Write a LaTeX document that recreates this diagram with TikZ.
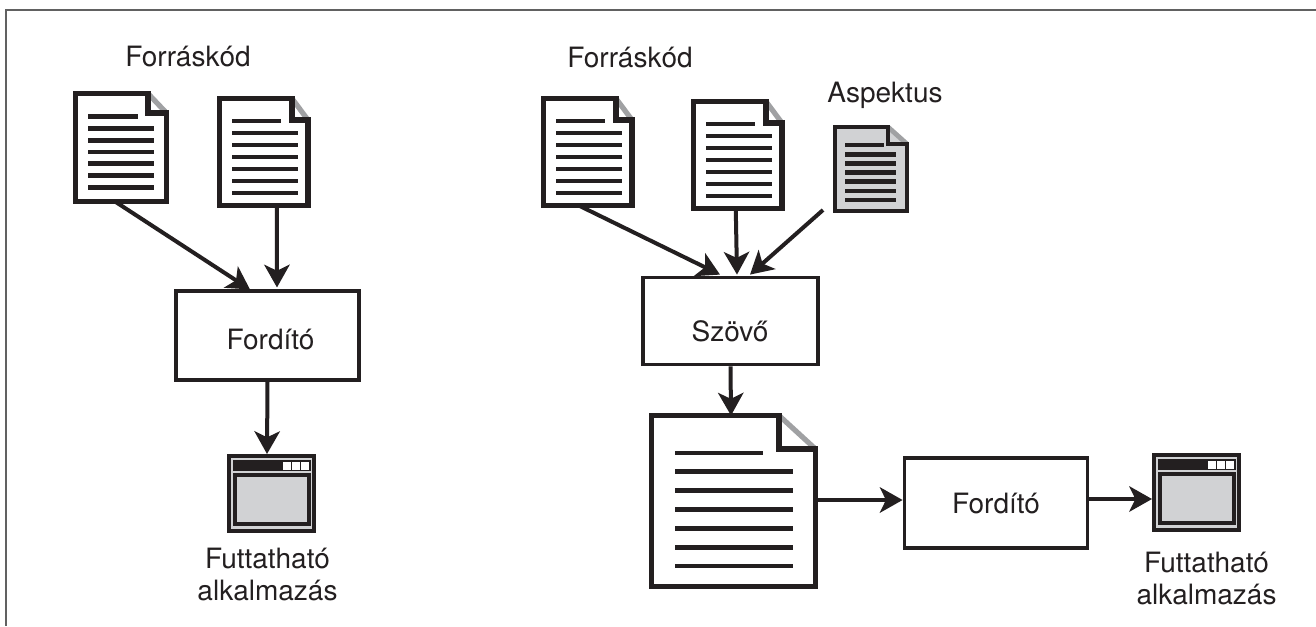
\documentclass[tikz,border=0pt]{standalone}
\usepackage{fontspec}
\setmainfont{TeX Gyre Heros}
\usetikzlibrary{arrows.meta,calc}
\definecolor{ink}{HTML}{231F20}
\definecolor{foldgrey}{HTML}{A0A1A3}
\definecolor{panel}{HTML}{D1D2D4}
\tikzset{
  x=0.75pt,y=-0.75pt,
  flow/.style={draw=ink,line width=3pt,-{Stealth[length=17pt,width=19pt,inset=4.5pt]}},
  procbox/.style={draw=ink,fill=white,line width=2.6pt,inner sep=0pt},
  label/.style={text=ink,font=\fontsize{21pt}{24pt}\selectfont,align=center,inner sep=0pt},
}
% name, left, top, right, bottom, fold x, fold y, first line y, last line y
\newcommand{\docicon}[9]{%
  \node[inner sep=0pt,outer sep=0pt,minimum width={(#4-#2)*0.75pt},minimum height={(#5-#3)*0.75pt}] (#1) at ({(#2+#4)/2},{(#3+#5)/2}) {};
  \fill[\docfill] (#2,#3) -- (#6,#3) -- (#4,#7) -- (#4,#5) -- (#2,#5) -- cycle;
  \draw[foldgrey,line width=\docw] (#6,#3) -- (#4,#7);
  \draw[ink,line width=\docw,miter limit=10]
    (#6,#7) -- (#4,#7) -- (#4,#5) -- (#2,#5) -- (#2,#3) -- (#6,#3) -- cycle;
  \foreach \k in {0,...,6}{
    \pgfmathsetmacro{\ly}{#8+\k*(#9-#8)/6}
    \ifnum\k=0
      \draw[ink,line width=\docl] (\docxa,\ly) -- (\docxc,\ly);
    \else
      \draw[ink,line width=\docl] (\docxa,\ly) -- (\docxb,\ly);
    \fi
  }%
}
\newcommand{\winicon}[3]{% name, left, top
  \begin{scope}[shift={(#2,#3)}]
    \node[inner sep=0pt,outer sep=0pt,minimum width=66.75pt,minimum height=59.25pt,anchor=north west] (#1) at (0,0) {};
    \draw[ink,line width=3pt,fill=panel] (2,2) rectangle (87,77);
    \fill[ink] (6,6) rectangle (84,17);
    \fill[white] (56,8) rectangle (63.5,15.5);
    \fill[white] (65,8) rectangle (72.5,15.5);
    \fill[white] (74,8) rectangle (81.5,15.5);
    \draw[ink,line width=2.8pt,fill=panel] (8,21) rectangle (82,70);
  \end{scope}%
}
\begin{document}
\begin{tikzpicture}
\useasboundingbox (0,0) rectangle (1316,626);
\path[draw=black!62,line width=1.2pt] (1316,10) -- (6,10) -- (6,626);

% left diagram
\def\docfill{white}\def\docw{3.9pt}\def\docl{3.7pt}
\def\docxa{88}\def\docxb{154}\def\docxc{138}
\docicon{srcA}{75.5}{93.5}{166.5}{201.5}{148}{113}{116.5}{187.5}
\def\docxa{232}\def\docxb{298}\def\docxc{281}
\docicon{srcB}{219.5}{98.5}{308}{205.5}{292}{120}{121}{193}
\node[label] (t1) at (188,56) {Forráskód};
\node[procbox,minimum width=137pt,minimum height=66.5pt] (comp1) at (267.5,335.5) {};
\node[label] (t2) at (270.5,339) {Fordító};
\winicon{win1}{227}{454}
\node[label] (t3) at (267.5,574.5) {Futtatható\\alkalmazás};
\draw[flow] ($(srcA.south)+(-6,0)$) -- ($(comp1.north)+(-17.5,0)$);
\draw[flow] ($(srcB.south)+(13,0)$) -- ($(comp1.north)+(9.5,-2)$);
\draw[flow] (comp1.south) -- ($(win1.north)+(-4.5,0)$);

% right diagram
\def\docxa{556}\def\docxb{622}\def\docxc{605}
\docicon{srcC}{543.5}{98.5}{632}{205.5}{616}{120}{121}{193}
\def\docxa{706}\def\docxb{772}\def\docxc{755}
\docicon{srcD}{693.5}{101.5}{782}{208.5}{766}{123}{124}{196}
\def\docfill{panel}\def\docw{3.6pt}\def\docl{3.5pt}
\def\docxa{845}\def\docxb{896}\def\docxc{884}
\docicon{asp}{835}{127}{907}{211}{888}{144}{145}{200}
\def\docfill{white}\def\docw{3.9pt}\def\docl{3.7pt}
\def\docxa{675}\def\docxb{793}\def\docxc{763}
\docicon{big}{651.5}{415.5}{815.5}{586.5}{779}{449}{453}{566}
\node[label] (t4) at (630,57) {Forráskód};
\node[label] (t5) at (885,95) {Aspektus};
\node[procbox,minimum width=131pt,minimum height=65.5pt] (weave) at (730.5,321) {};
\node[label] (t6) at (730,331) {Szövő};
\node[procbox,minimum width=137.5pt,minimum height=67.5pt] (comp2) at (996,503) {};
\node[label] (t7) at (996,503) {Fordító};
\winicon{win2}{1152}{453}
\node[label] (t8) at (1206.5,578) {Futtatható\\alkalmazás};
\draw[flow] ($(srcC.south)+(-9,0)$) -- ($(weave.north)+(-10.5,-1)$);
\draw[flow] ($(srcD.south)+(-2,0)$) -- ($(weave.north)+(6.5,-1)$);
\draw[flow] ($(asp.south)+(-48,-1)$) -- ($(weave.north)+(19.5,-1)$);
\draw[flow] (weave.south) -- ($(big.north)+(-2.5,0)$);
\draw[flow] ($(big.east)+(2,-1)$) -- ($(comp2.west)+(0,-3)$);
\draw[flow] ($(comp2.east)+(0,-4)$) -- ($(win2.west)+(0,6.5)$);
\end{tikzpicture}
\end{document}
